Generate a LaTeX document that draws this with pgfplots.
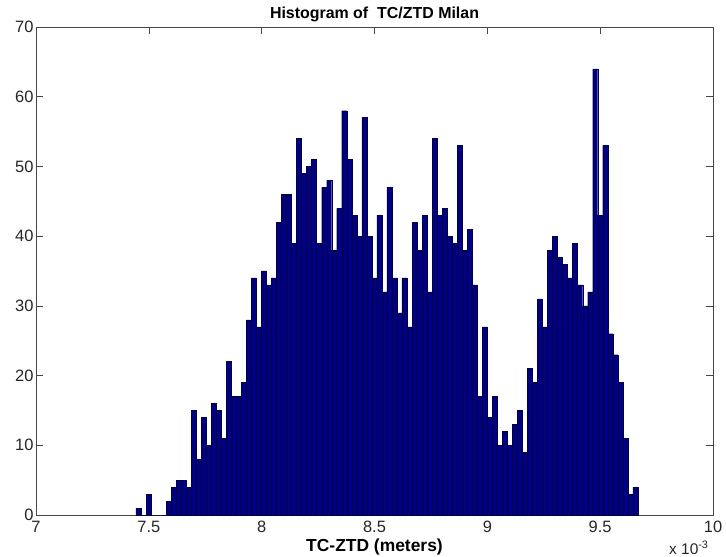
\documentclass[border=0pt]{standalone}
\usepackage{pgfplots}
\pgfplotsset{compat=1.18}
\usepackage{pgfplotstable}
\usepackage{fontspec}
\setmainfont{Liberation Sans}
\definecolor{barfill}{RGB}{0,0,128}
\definecolor{baredge}{RGB}{0,0,70}
\definecolor{axgray}{RGB}{70,70,70}

\pgfplotstableread{
x y
7.4430 1
7.4652 0
7.4875 3
7.5097 0
7.5320 0
7.5542 0
7.5764 2
7.5987 4
7.6209 5
7.6432 5
7.6654 4
7.6876 15
7.7099 8
7.7321 14
7.7544 10
7.7766 16
7.7988 15
7.8211 11
7.8433 22
7.8656 17
7.8878 17
7.9100 19
7.9323 28
7.9545 34
7.9768 27
7.9990 35
8.0212 33
8.0435 34
8.0657 42
8.0880 46
8.1102 46
8.1324 39
8.1547 54
8.1769 49
8.1992 50
8.2214 51
8.2436 39
8.2659 47
8.2881 48
8.3104 38
8.3326 44
8.3548 58
8.3771 51
8.3993 43
8.4216 40
8.4438 57
8.4660 40
8.4883 34
8.5105 43
8.5328 32
8.5550 47
8.5772 34
8.5995 29
8.6217 34
8.6440 27
8.6662 42
8.6884 38
8.7107 43
8.7329 32
8.7552 54
8.7774 43
8.7996 44
8.8219 40
8.8441 39
8.8664 53
8.8886 38
8.9108 41
8.9331 33
8.9553 17
8.9776 27
8.9998 14
9.0220 17
9.0443 10
9.0665 12
9.0888 10
9.1110 13
9.1332 15
9.1555 9
9.1777 21
9.2000 19
9.2222 31
9.2444 27
9.2667 38
9.2889 40
9.3112 37
9.3334 36
9.3556 34
9.3779 39
9.4001 33
9.4224 30
9.4446 32
9.4668 64
9.4891 43
9.5113 53
9.5336 26
9.5558 23
9.5780 19
9.6003 11
9.6225 3
9.6448 4
9.6670 0
}\histdata

\begin{document}
\begin{tikzpicture}
\useasboundingbox (-36bp,-42bp) rectangle (690bp,515bp);
\begin{axis}[
  at={(0,0)}, anchor=south west,
  scale only axis, width=677bp, height=488bp,
  xmin=7, xmax=10, ymin=0, ymax=70,
  xtick={7,7.5,8,8.5,9,9.5,10},
  xticklabels={7,7.5,8,8.5,9,9.5,10},
  ytick={0,10,20,30,40,50,60,70},
  tick align=inside, major tick length=7bp,
  axis line style={axgray, line width=0.6pt},
  tick style={axgray, line width=0.6pt},
  tick label style={font=\fontsize{16.5}{19}\selectfont, text=black!85},
  xticklabel style={yshift=-3bp},
  yticklabel style={xshift=1bp},
  /pgf/number format/assume math mode=true,
  title={\bfseries Histogram of\ \ TC/ZTD Milan},
  title style={at={(axis description cs:0.5,1)}, anchor=base, yshift=3bp, font=\fontsize{16}{19}\selectfont},
  xlabel={\bfseries TC-ZTD (meters)},
  xlabel style={at={(axis description cs:0.5,0)}, anchor=base, yshift=-36bp, font=\fontsize{17.5}{20}\selectfont},
  clip=false,
]
\addplot[ybar interval, fill=barfill, draw=baredge, line width=0.3pt] table[x=x, y=y] {\histdata};
\node[anchor=base east, font=\fontsize{15.5}{18}\selectfont, text=black!85] at (axis description cs:1,0) [yshift=-39bp, xshift=-1bp] {x 10\textsuperscript{-3}};
\end{axis}
\end{tikzpicture}
\end{document}
